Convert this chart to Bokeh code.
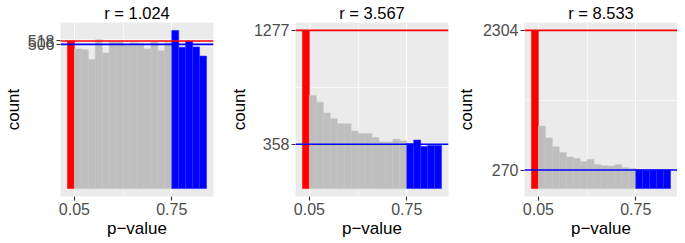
from bokeh.plotting import figure
from bokeh.layouts import row
from bokeh.models import FixedTicker, Range1d, Span
from bokeh.embed import file_html
from bokeh.resources import INLINE

# ---- data -------------------------------------------------------------
bin_left = [0.00, 0.05, 0.10, 0.15, 0.20, 0.25, 0.30, 0.35, 0.40, 0.45,
            0.50, 0.55, 0.60, 0.65, 0.70, 0.75, 0.80, 0.85, 0.90, 0.95]
bin_width = 0.05

titles = ["r = 1.024", "r = 3.567", "r = 8.533"]

# counts per bin: first bin (p < 0.05, red), 14 middle bins (grey), last 5 bins (p > 0.75, blue)
counts_1 = [518,
            490, 487, 453, 522, 476, 515, 517, 502, 512, 510, 490, 514, 484, 512,
            555, 496, 517, 497, 465]
counts_2 = [1277,
            752, 698, 610, 564, 524, 524, 465, 444, 444, 412, 377, 377, 399, 385,
            362, 392, 340, 348, 348]
counts_3 = [2304,
            912, 738, 608, 526, 459, 439, 391, 424, 352, 333, 328, 347, 304, 294,
            272, 268, 271, 269, 270]

red_line = [518, 1277, 2304]     # count of first bin
blue_line = [506, 358, 270]      # mean count of the p > 0.75 bins

x_ticks = [0.05, 0.75]
x_minor = [0.4]
y_minor = [[500, 512, 524], [817.5], [1287]]

# ---- layout ---------------------------------------------------------------
FONT = "Liberation Sans"
borders_left = [50, 64, 68]
borders_right = [13, 5, 0]
label_standoff = [2, 2, 4]


def panel(i, counts):
    cmax = max(counts)
    p = figure(frame_width=153, frame_height=174,
               x_range=Range1d(-0.05, 1.05),
               y_range=Range1d(-0.05 * cmax, 1.05 * cmax),
               output_backend="svg", toolbar_location=None,
               min_border_left=borders_left[i], min_border_right=borders_right[i],
               min_border_top=0, min_border_bottom=0,
               x_axis_label="p\u2212value", y_axis_label="count")
    p.title.text = titles[i]
    p.title.align = "center"
    p.title.text_font = FONT
    p.title.text_font_size = "16.5px"
    p.title.text_font_style = "normal"
    p.title.text_color = "black"
    p.title.standoff = 2
    p.background_fill_color = "#EBEBEB"
    p.border_fill_color = "white"
    p.outline_line_color = None

    p.xaxis.ticker = FixedTicker(ticks=x_ticks, minor_ticks=x_minor)
    p.yaxis.ticker = FixedTicker(ticks=[blue_line[i], red_line[i]], minor_ticks=y_minor[i])

    for g in (p.xgrid, p.ygrid):
        g.grid_line_color = "white"
        g.grid_line_width = 1.1
        g.minor_grid_line_color = "white"
        g.minor_grid_line_width = 0.55

    for ax in (p.xaxis, p.yaxis):
        ax.axis_line_color = None
        ax.major_tick_line_color = "#333333"
        ax.major_tick_line_width = 1.1
        ax.major_tick_in = 0
        ax.major_tick_out = 4
        ax.minor_tick_line_color = None
        ax.major_label_text_color = "#4D4D4D"
        ax.major_label_text_font = FONT
        ax.major_label_text_font_size = "16px"
        ax.major_label_standoff = 2
        ax.axis_label_text_font = FONT
        ax.axis_label_text_font_size = "17px"
        ax.axis_label_text_font_style = "normal"
        ax.axis_label_text_color = "black"
    p.xaxis.axis_label_standoff = 1
    p.yaxis.axis_label_standoff = label_standoff[i]

    lefts = bin_left
    rights = [b + bin_width for b in bin_left]
    # red bin
    p.quad(left=lefts[:1], right=rights[:1], top=counts[:1], bottom=0,
           fill_color="#FF0000", line_color="#FF0000", line_width=0.5)
    # grey bins
    p.quad(left=lefts[1:15], right=rights[1:15], top=counts[1:15], bottom=0,
           fill_color="#BEBEBE", line_color="#C6C6C6", line_width=0.6)
    # blue bins
    p.quad(left=lefts[15:], right=rights[15:], top=counts[15:], bottom=0,
           fill_color="#0000FF", line_color="#2A2AFF", line_width=0.6)

    p.add_layout(Span(location=red_line[i], dimension="width",
                      line_color="#FF0000", line_width=1.6))
    p.add_layout(Span(location=blue_line[i], dimension="width",
                      line_color="#0000FF", line_width=1.6))
    return p


figs = [panel(0, counts_1), panel(1, counts_2), panel(2, counts_3)]
layout = row(*figs)

open("out.html", "w").write(file_html(layout, INLINE))
